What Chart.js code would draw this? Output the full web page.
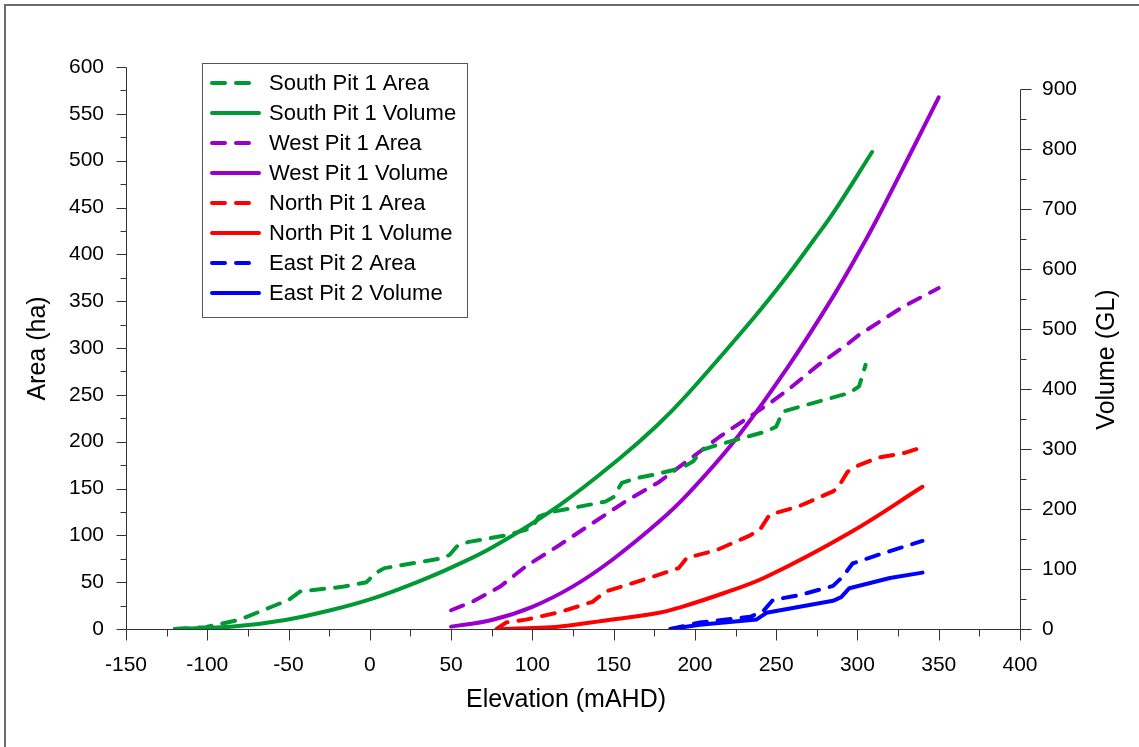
<!DOCTYPE html>
<html>
<head>
<meta charset="utf-8">
<script src="https://cdn.jsdelivr.net/npm/chart.js@4"></script>
<style>
  html, body { margin: 0; padding: 0; background: #fff; }
</style>
</head>
<body>
<canvas id="myChart" width="1139" height="747"></canvas>
<script>
// values: elevation (mAHD) -> area (ha) / volume (GL)
const southAreaElev = [-120, -101, -80, -60, -50, -43, -17, -2, 3, 9, 43, 49, 54, 61, 84, 96, 100, 104, 112, 145, 150, 155, 164, 178, 192, 199, 204, 213, 244, 250, 254, 268, 295, 301, 305];
const southArea = [0, 2, 10, 24, 31, 40, 45, 50, 59, 65, 75, 79, 89, 93, 100, 106, 109, 120, 125, 136, 141, 156, 161, 166, 172, 179, 191, 196, 211, 216, 232, 239, 252, 259, 282];
const southVolElev = [-120, -84, -52, -23, 2, 28, 49, 76, 117, 154, 177, 195, 236, 255, 273, 285, 309];
const southVol = [0, 4, 15, 32, 51, 77, 101, 137, 207, 285, 340, 390, 518, 582, 648, 693, 795];

const westAreaElev = [50, 63, 80, 96, 117, 137, 158, 178, 195, 215, 246, 257, 276, 293, 301, 328, 350];
const westArea = [20, 29, 45, 67, 90, 113, 137, 157, 179, 205, 241, 255, 282, 303, 314, 344, 364];
const westVolElev = [50, 75, 100, 125, 149, 178, 195, 225, 256, 285, 305, 316, 334, 350];
const westVol = [4, 15, 37, 71, 115, 179, 223, 316, 432, 554, 648, 704, 800, 886];

const northAreaElev = [78, 84, 96, 117, 137, 145, 158, 178, 190, 195, 213, 234, 240, 246, 264, 285, 288, 294, 301, 313, 329, 340];
const northArea = [0, 7, 10, 18, 29, 40, 47, 58, 65, 76, 84, 100, 106, 122, 131, 147, 151, 168, 175, 183, 188, 194];
const northVolElev = [79, 100, 117, 147, 178, 192, 218, 244, 295, 340];
const northVol = [0, 1.5, 4, 15, 27, 37, 60, 87, 160, 237];

const eastAreaElev = [185, 203, 234, 242, 248, 264, 285, 291, 297, 316, 340];
const eastArea = [0, 7, 13, 19, 31, 36, 46, 56, 70, 81, 94];
const eastVolElev = [185, 203, 238, 244, 285, 290, 295, 320, 340];
const eastVol = [0, 7, 16, 27, 47, 53, 68, 85, 94];

const xTicks = [-150, 400, 50];
const areaTicks = [0, 600, 50];
const volTicks = [0, 900, 100];

const FONT = "'Liberation Sans', Arial, sans-serif";
const green = "#009933", purple = "#9900cc", red = "#ff0000", blue = "#0000ff";

function series(label, elev, vals, color, dashed, axis, smooth) {
  return {
    label: label,
    data: elev.map((e, i) => ({ x: e, y: vals[i] })),
    borderColor: color,
    backgroundColor: color,
    borderWidth: 4,
    borderDash: dashed ? [13, 11] : [],
    borderCapStyle: "round",
    borderJoinStyle: "round",
    pointRadius: 0,
    fill: false,
    tension: smooth ? 0.4 : 0,
    yAxisID: axis,
  };
}

const datasets = [
  series("South Pit 1 Area", southAreaElev, southArea, green, true, "yArea", false),
  series("South Pit 1 Volume", southVolElev, southVol, green, false, "yVol", true),
  series("West Pit 1 Area", westAreaElev, westArea, purple, true, "yArea", false),
  series("West Pit 1 Volume", westVolElev, westVol, purple, false, "yVol", true),
  series("North Pit 1 Area", northAreaElev, northArea, red, true, "yArea", false),
  series("North Pit 1 Volume", northVolElev, northVol, red, false, "yVol", true),
  series("East Pit 2 Area", eastAreaElev, eastArea, blue, true, "yArea", false),
  series("East Pit 2 Volume", eastVolElev, eastVol, blue, false, "yVol", false),
];

// frame, axis lines, tick marks, axis titles and the boxed legend
const decor = {
  id: "decor",
  beforeDraw(chart) {
    const ctx = chart.ctx;
    ctx.save();
    ctx.fillStyle = "#fff";
    ctx.fillRect(0, 0, chart.width, chart.height);
    ctx.strokeStyle = "#6b6b6b";
    ctx.lineWidth = 2;
    ctx.strokeRect(5, 5, 1300, 900);
    ctx.restore();
  },
  beforeDatasetsDraw(chart) {
    const ctx = chart.ctx;
    const sx = chart.scales.x, sa = chart.scales.yArea, sv = chart.scales.yVol;
    const y0 = Math.round(sa.getPixelForValue(0)) + 0.5;
    const xl = Math.round(sx.getPixelForValue(xTicks[0])) + 0.5;
    const xr = Math.round(sx.getPixelForValue(xTicks[1])) + 0.5;
    ctx.save();
    ctx.strokeStyle = "#333";
    ctx.lineWidth = 1;
    ctx.beginPath();
    // x axis
    ctx.moveTo(xl, y0); ctx.lineTo(xr, y0);
    for (let v = xTicks[0]; v <= xTicks[1]; v += xTicks[2] / 2) {
      const p = Math.round(sx.getPixelForValue(v)) + 0.5;
      const len = (v % xTicks[2] === 0) ? 11 : 7;
      ctx.moveTo(p, y0); ctx.lineTo(p, y0 + len);
    }
    // left axis
    const aTop = Math.round(sa.getPixelForValue(areaTicks[1])) + 0.5;
    ctx.moveTo(xl, y0); ctx.lineTo(xl, aTop);
    for (let v = areaTicks[0]; v <= areaTicks[1]; v += areaTicks[2] / 2) {
      const p = Math.round(sa.getPixelForValue(v)) + 0.5;
      const len = (v % areaTicks[2] === 0) ? 10 : 6;
      ctx.moveTo(xl, p); ctx.lineTo(xl - len, p);
    }
    // right axis
    const vTop = Math.round(sv.getPixelForValue(volTicks[1])) + 0.5;
    ctx.moveTo(xr, y0); ctx.lineTo(xr, vTop);
    for (let v = volTicks[0]; v <= volTicks[1]; v += volTicks[2] / 2) {
      const p = Math.round(sv.getPixelForValue(v)) + 0.5;
      const len = (v % volTicks[2] === 0) ? 11 : 6;
      ctx.moveTo(xr, p); ctx.lineTo(xr + len, p);
    }
    ctx.stroke();

    // axis titles
    ctx.fillStyle = "#000";
    ctx.font = "25px " + FONT;
    ctx.textAlign = "center";
    ctx.textBaseline = "middle";
    ctx.fillText("Elevation (mAHD)", 566, 700);
    ctx.save();
    ctx.translate(38, (aTop + y0) / 2);
    ctx.rotate(-Math.PI / 2);
    ctx.fillText("Area (ha)", 0, 0);
    ctx.restore();
    ctx.save();
    ctx.translate(1107, (vTop + y0) / 2);
    ctx.rotate(-Math.PI / 2);
    ctx.fillText("Volume (GL)", 0, 0);
    ctx.restore();
    ctx.restore();
  },
  afterDatasetsDraw(chart) {
    const ctx = chart.ctx;
    ctx.save();
    ctx.fillStyle = "#fff";
    ctx.fillRect(202, 63, 265, 254);
    ctx.strokeStyle = "#555";
    ctx.lineWidth = 1;
    ctx.strokeRect(202.5, 63.5, 265, 254);
    ctx.font = "22px " + FONT;
    ctx.textAlign = "left";
    ctx.textBaseline = "middle";
    chart.data.datasets.forEach((ds, i) => {
      const y = 83 + i * 30;
      ctx.strokeStyle = ds.borderColor;
      ctx.lineWidth = 4;
      ctx.lineCap = "round";
      ctx.setLineDash(ds.borderDash);
      ctx.beginPath();
      ctx.moveTo(212, y);
      ctx.lineTo(ds.borderDash.length ? 249 : 259, y);
      ctx.stroke();
      ctx.setLineDash([]);
      ctx.fillStyle = "#000";
      ctx.fillText(ds.label, 269, y + 1);
    });
    ctx.restore();
  },
};

new Chart("myChart", {
  type: "line",
  data: { datasets: datasets },
  plugins: [decor],
  options: {
    responsive: false,
    animation: false,
    layout: { padding: { top: 67, left: 0, right: 0, bottom: 0 } },
    plugins: { legend: { display: false }, tooltip: { enabled: false } },
    scales: {
      x: {
        type: "linear",
        min: xTicks[0],
        max: xTicks[1],
        grid: { display: false, drawTicks: false },
        border: { display: false },
        ticks: { stepSize: xTicks[2], padding: 24, color: "#000", font: { size: 21, family: FONT } },
        afterFit: (s) => { s.height = 118; },
      },
      yArea: {
        type: "linear",
        position: "left",
        min: areaTicks[0],
        max: areaTicks[1],
        grid: { display: false, drawTicks: false },
        border: { display: false },
        ticks: { stepSize: areaTicks[2], padding: 22, color: "#000", font: { size: 21, family: FONT } },
        afterFit: (s) => { s.width = 126; },
      },
      yVol: {
        type: "linear",
        position: "right",
        min: volTicks[0],
        max: volTicks[1] * (629 - 67) / (629 - 89),
        grid: { display: false, drawTicks: false },
        border: { display: false },
        ticks: {
          stepSize: volTicks[2],
          includeBounds: false,
          padding: 22,
          color: "#000",
          font: { size: 21, family: FONT },
          callback: (v) => (v <= volTicks[1] ? v : ""),
        },
        afterFit: (s) => { s.width = 119; },
      },
    },
  },
});
</script>
</body>
</html>
